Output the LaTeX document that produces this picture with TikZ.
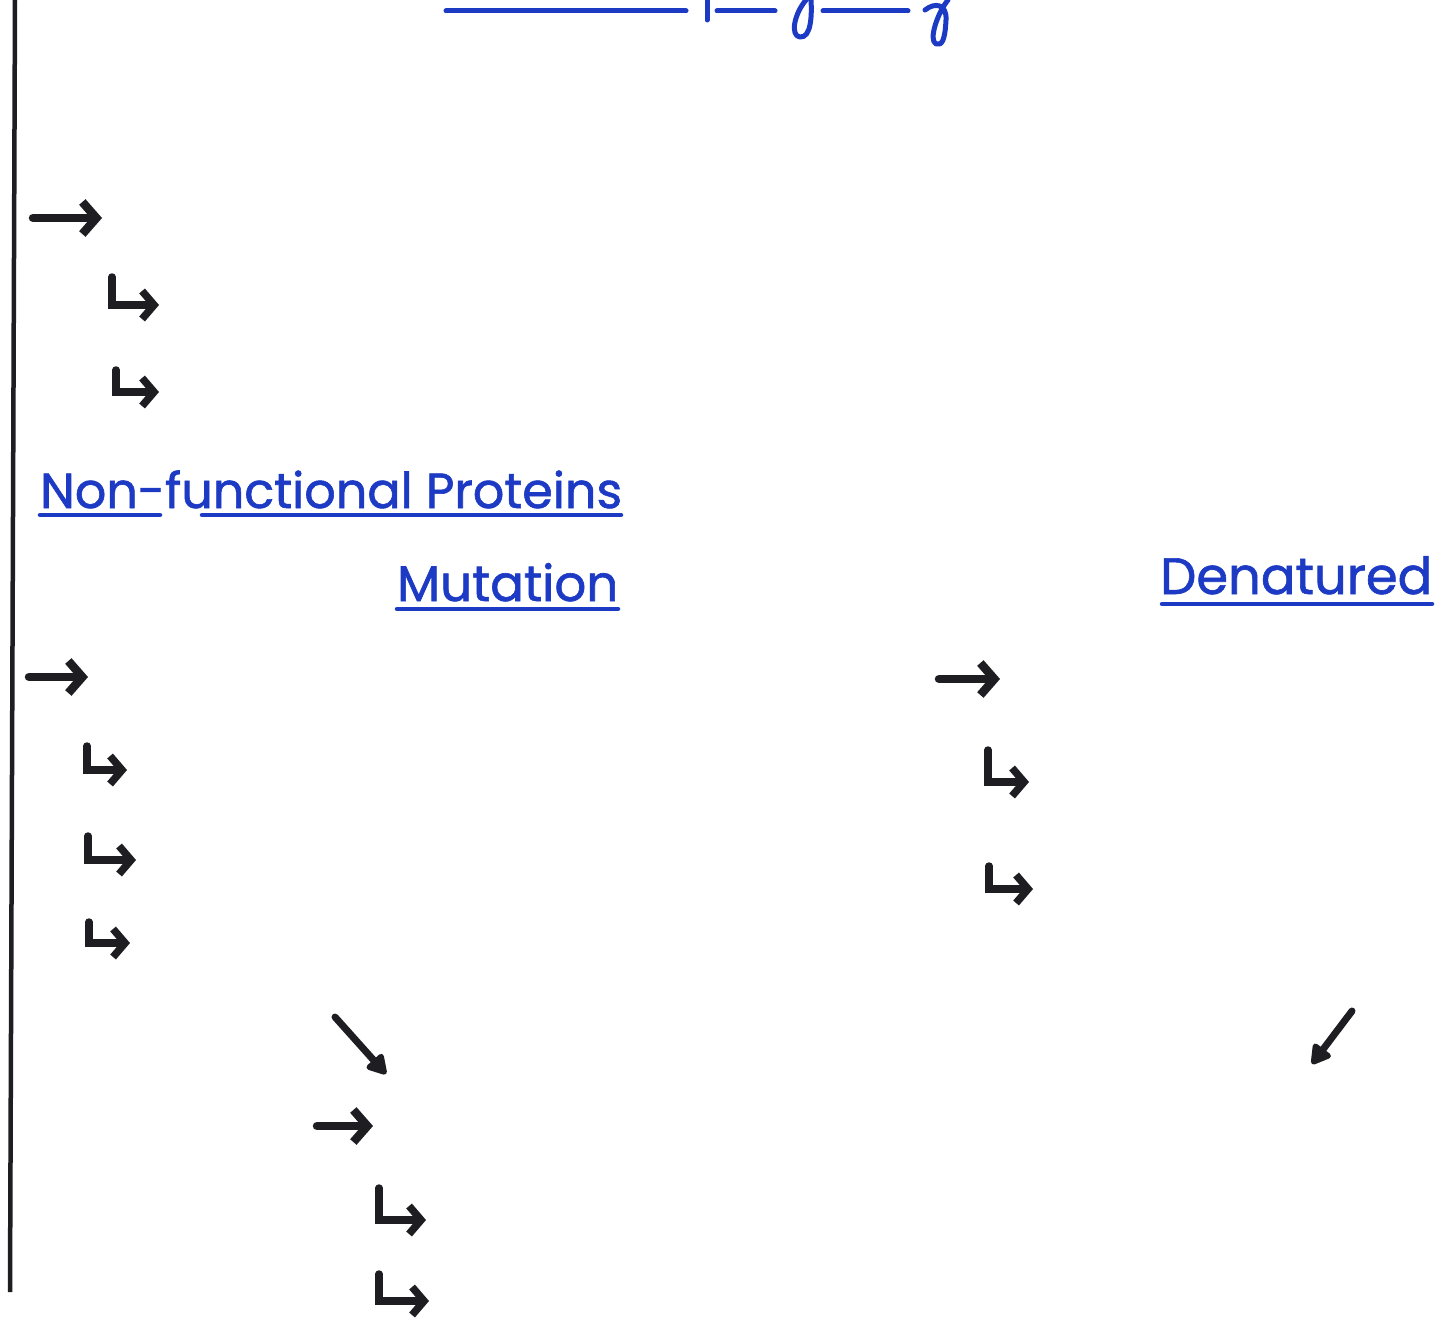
\documentclass[tikz,border=0pt]{standalone}
\usepackage{fontspec}
\setmainfont{Poppins}[AutoFakeBold=1.2]
\usetikzlibrary{arrows.meta}
\definecolor{blueink}{RGB}{28,58,196}
\definecolor{ink}{RGB}{30,30,34}
\tikzset{
  harrow/.style={ink, line width=8.5pt, line cap=round, line join=round,
    -{Straight Barb[length=14pt,width=32pt,line width=8.5pt]}},
  hookarrow/.style={ink, line width=7.5pt, line cap=round, line join=miter,
    -{Straight Barb[length=12pt,width=28pt,line width=7.5pt]}},
  diagarrow/.style={ink, line width=7pt, line cap=round,
    -{Triangle[length=22pt,width=24pt,round]}},
  uline/.style={blueink, line width=4.5pt, line cap=round},
  pen/.style={blueink, line width=5pt, line cap=round, line join=round},
  title/.style={blueink, inner sep=0pt, anchor=base west, font=\bfseries}
}
\newcommand{\rarr}[4]{\coordinate (#1s) at (#2,#4); \coordinate (#1e) at (#3,#4); \draw[harrow] (#1s) -- (#1e);}
\newcommand{\larr}[5]{\coordinate (#1s) at (#2,#3); \coordinate (#1e) at (#5,#4); \draw[hookarrow] (#1s) |- (#1e);}
\begin{document}
\begin{tikzpicture}[x=1pt,y=-1pt]
\useasboundingbox[fill=white] (0,0) rectangle (1437,1319);
% left margin line
\coordinate (mt) at (15,0); \coordinate (mb) at (10,1292);
\draw[ink, line width=4.5pt] (mt) -- (mb);
% top cut-off heading remains
\draw[pen] (446,11) -- (686,11);
\draw[pen] (707,0) -- (707,20);
\draw[pen] (717,11) -- (775,11);
\draw[pen] (806,0) .. controls (794,14) and (790,36) .. (800,37) .. controls (811,38) and (812,16) .. (811,0);
\draw[pen] (823,11) -- (908,11);
\draw[pen] (925,10) .. controls (935,2) and (947,4) .. (946,20) .. controls (945,40) and (942,46) .. (936,44) .. controls (928,40) and (938,12) .. (948,0);
% headings
\node[title] (nfp) at (40,508) {\resizebox{582pt}{!}{Non-functional Proteins}};
\node[title] (mut) at (397,601) {\resizebox{221pt}{!}{Mutation}};
\node[title] (den) at (1160,594) {\resizebox{272pt}{!}{Denatured}};
\draw[uline] (40,515) -- (160,515);
\draw[uline] (202,515) -- (621,515);
\draw[uline] (397,609) -- (618,609);
\draw[uline] (1162,604) -- (1432,604);
% arrows
\rarr{a1}{33}{102}{218}
\larr{a2}{112}{277}{305}{159}
\larr{a3}{116}{370}{392}{159}
\rarr{a4}{29}{88}{677}
\larr{a5}{87}{746}{770}{127}
\larr{a6}{88}{836}{860}{136}
\larr{a7}{89}{922}{943}{130}
\coordinate (d1s) at (335,1017); \coordinate (d1e) at (386,1074);
\draw[diagarrow] (d1s) -- (d1e);
\rarr{a8}{317}{373}{1126}
\larr{a9}{379}{1188}{1220}{426}
\larr{a10}{379}{1274}{1301}{429}
\rarr{b1}{939}{1000}{679}
\larr{b2}{988}{750}{782}{1029}
\larr{b3}{989}{866}{889}{1033}
\coordinate (d2s) at (1352,1011); \coordinate (d2e) at (1312,1064);
\draw[diagarrow] (d2s) -- (d2e);
\end{tikzpicture}
\end{document}
